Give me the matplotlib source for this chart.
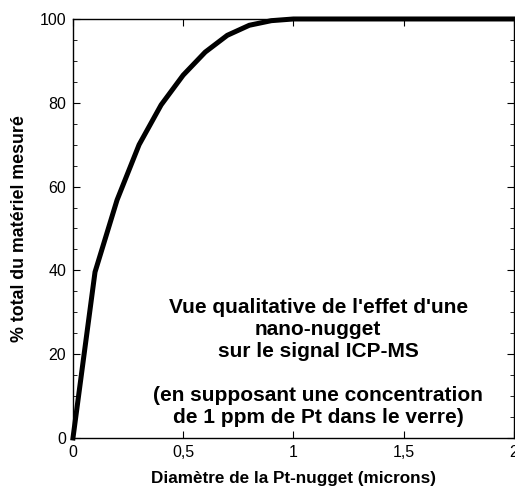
import numpy as np
import matplotlib.pyplot as plt
from matplotlib.ticker import MultipleLocator, FuncFormatter

plt.rcParams['font.family'] = ['Liberation Sans', 'DejaVu Sans']

# diametre (microns) et % du materiel mesure
diam = [0, 0.1, 0.2, 0.3, 0.4, 0.5, 0.6, 0.7, 0.8, 0.9, 1.0, 1.2, 1.5, 2.0]
pct = [0, 39.6, 56.8, 70, 79.5, 86.6, 92.1, 96.1, 98.5, 99.6, 100, 100, 100, 100]

fig = plt.figure(figsize=(5.15, 4.88), dpi=100)
ax = fig.add_axes([0.1417, 0.1025, 0.856, 0.8586])

ax.plot(diam, pct, 'k', lw=3.6, solid_joinstyle='miter', clip_on=False, zorder=3)

ax.set_xlim(0, 2)
ax.set_ylim(0, 100)
ax.xaxis.set_major_locator(MultipleLocator(0.5))
ax.yaxis.set_major_locator(MultipleLocator(20))
ax.yaxis.set_minor_locator(MultipleLocator(5))
ax.xaxis.set_major_formatter(FuncFormatter(lambda v, p: ('%g' % v).replace('.', ',')))
ax.tick_params(which='both', direction='in', top=True, right=True, labelsize=11.5, pad=5)
ax.tick_params(which='major', length=5)
ax.tick_params(which='minor', length=3)
for s in ax.spines.values():
    s.set_linewidth(1.0)

ax.set_xlabel('Diamètre de la Pt-nugget (microns)', fontsize=12.3, fontweight='bold', labelpad=8)
ax.set_ylabel('% total du matériel mesuré', fontsize=12.8, fontweight='bold', labelpad=8)

txt = ("Vue qualitative de l'effet d'une\nnano-nugget\nsur le signal ICP-MS\n\n"
       "(en supposant une concentration\nde 1 ppm de Pt dans le verre)")
ax.text(0.556, 0.18, txt, transform=ax.transAxes, ha='center', va='center',
        fontsize=15, fontweight='bold', linespacing=1.2)

fig.savefig('out.png', dpi=100)
